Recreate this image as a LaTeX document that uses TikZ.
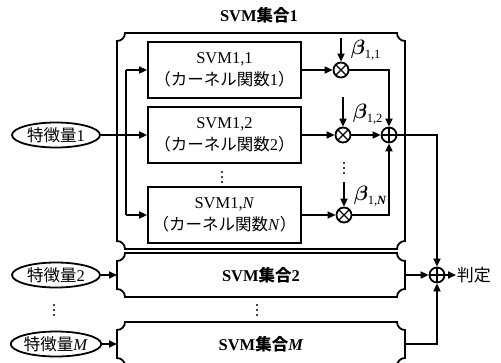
\documentclass[tikz,border=0pt]{standalone}
\usepackage{fontspec}
\setmainfont{Liberation Serif}
\newfontfamily\jp{Noto Sans CJK JP}
\usepackage{bm}
\usetikzlibrary{arrows.meta,shapes.geometric,calc}
\newcommand\notchframe[1]{%
\draw ($(#1.north west)+(8,0)$) -- ($(#1.north east)+(-8,0)$)
 .. controls ($(#1.north east)+(-8,4.4)$) and ($(#1.north east)+(-4.4,8)$) .. ($(#1.north east)+(0,8)$)
 -- ($(#1.south east)+(0,-8)$)
 .. controls ($(#1.south east)+(-4.4,-8)$) and ($(#1.south east)+(-8,-4.4)$) .. ($(#1.south east)+(-8,0)$)
 -- ($(#1.south west)+(8,0)$)
 .. controls ($(#1.south west)+(8,-4.4)$) and ($(#1.south west)+(4.4,-8)$) .. ($(#1.south west)+(0,-8)$)
 -- ($(#1.north west)+(0,8)$)
 .. controls ($(#1.north west)+(4.4,8)$) and ($(#1.north west)+(8,4.4)$) .. cycle;}
\newcommand\dotcol[2]{%
\coordinate (#1) at (#2);
\fill ($(#1)+(0,-5)$) circle (1.1) (#1) circle (1.1) ($(#1)+(0,5)$) circle (1.1);}
\newcommand\blab[2]{{$\bm\beta$}\kern-0.5pt\raisebox{-4pt}{\fontsize{12.5}{13}\selectfont #1,#2}}
\begin{document}
\begin{tikzpicture}[x=1pt,y=-1pt,line width=1.8pt,
  font=\fontsize{15}{18}\selectfont,
  arr/.style={-{Triangle[length=8pt,width=7pt]}},
  inbox/.style={draw,minimum width=153pt,minimum height=56pt,inner sep=0pt,align=center,font=\fontsize{16.5}{22}\selectfont},
  setbox/.style={minimum width=288pt,inner sep=0pt,outer sep=0pt,font=\fontsize{16.5}{19}\selectfont\bfseries},
  feat/.style={draw,ellipse,minimum width=88pt,minimum height=25pt,inner sep=0pt,font=\fontsize{16.5}{19}\selectfont},
  mult/.style={draw,circle,minimum size=15pt,inner sep=0pt,
    path picture={\draw[line width=1.4pt] (path picture bounding box.north west) -- (path picture bounding box.south east)
      (path picture bounding box.north east) -- (path picture bounding box.south west);}},
  addc/.style={draw,circle,minimum size=15pt,inner sep=0pt,
    path picture={\draw[line width=1.4pt] (path picture bounding box.north) -- (path picture bounding box.south)
      (path picture bounding box.west) -- (path picture bounding box.east);}},
  blabel/.style={anchor=west,inner sep=0pt,font=\fontsize{21}{22}\selectfont}]
\useasboundingbox (0,0) rectangle (501,362);

% big sets
\node[font=\fontsize{16.5}{19}\selectfont\bfseries] (title) at (259,15) {SVM{\jp 集合}1};
\node[setbox,minimum height=216pt] (set1) at (261,141) {};
\node[setbox,minimum height=44pt] (set2) at (261,275) {SVM{\jp 集合}2};
\node[setbox,minimum height=44pt] (setM) at (261,344) {SVM{\jp 集合}\textit{M}};
\notchframe{set1}
\notchframe{set2}
\notchframe{setM}

% features
\node[feat] (f1) at (56,135) {{\jp 特徴量}1};
\node[feat] (f2) at (56,275) {{\jp 特徴量}2};
\node[feat] (fM) at (56,344) {{\jp 特徴量}\textit{M}};
\dotcol{dl}{54,310}
\dotcol{dm}{257,310}

% inner SVMs
\node[inbox] (b1) at (224.5,70) {SVM1,1\\{\jp （カーネル関数}1{\jp ）}};
\node[inbox] (b2) at (224.5,135) {SVM1,2\\{\jp （カーネル関数}2{\jp ）}};
\node[inbox] (bN) at (224.5,215) {SVM1,\textit{N}\\{\jp （カーネル関数}\textit{N}{\jp ）}};
\dotcol{d1}{222,177}

% multipliers and adders
\node[mult] (m1) at (341,70) {};
\node[mult] (m2) at (343,135) {};
\node[mult] (mN) at (344,215) {};
\dotcol{d2}{344,168}
\node[addc] (a1) at (389,135) {};
\node[addc] (fa) at (437,275) {};
\node[anchor=west,inner sep=0pt,font=\fontsize{17}{20}\selectfont] (out) at (456,275) {\jp 判定};

\coordinate (bt1) at (341,38);
\coordinate (bt2) at (343,97);
\coordinate (btN) at (344,182);
\node[blabel] (l1) at (350,50) {\blab{1}{1}};
\node[blabel] (l2) at (352,114) {\blab{1}{2}};
\node[blabel] (lN) at (353,196) {\blab{1}{\textit{\bfseries N}}};

% bus
\coordinate (busT) at (126,70);
\coordinate (busB) at (126,215);
\draw (busT) -- (busB);
\draw[arr] (f1) -- (b2);
\draw[arr] (busT) -- (b1);
\draw[arr] (busB) -- (bN);

\draw[arr] (b1) -- (m1);
\draw[arr] (b2) -- (m2);
\draw[arr] (bN) -- (mN);
\draw[arr] (bt1) -- (m1);
\draw[arr] (bt2) -- (m2);
\draw[arr] (btN) -- (mN);
\draw[arr] (m1) -| (a1);
\draw[arr] (m2) -- (a1);
\draw[arr] (mN) -| (a1);
\draw[arr] (a1) -| (fa);
\draw[arr] (set2) -- (fa);
\draw[arr] (setM) -| (fa);
\draw[arr] (fa) -- (out);
\draw[arr] (f2) -- (set2);
\draw[arr] (fM) -- (setM);
\end{tikzpicture}
\end{document}
